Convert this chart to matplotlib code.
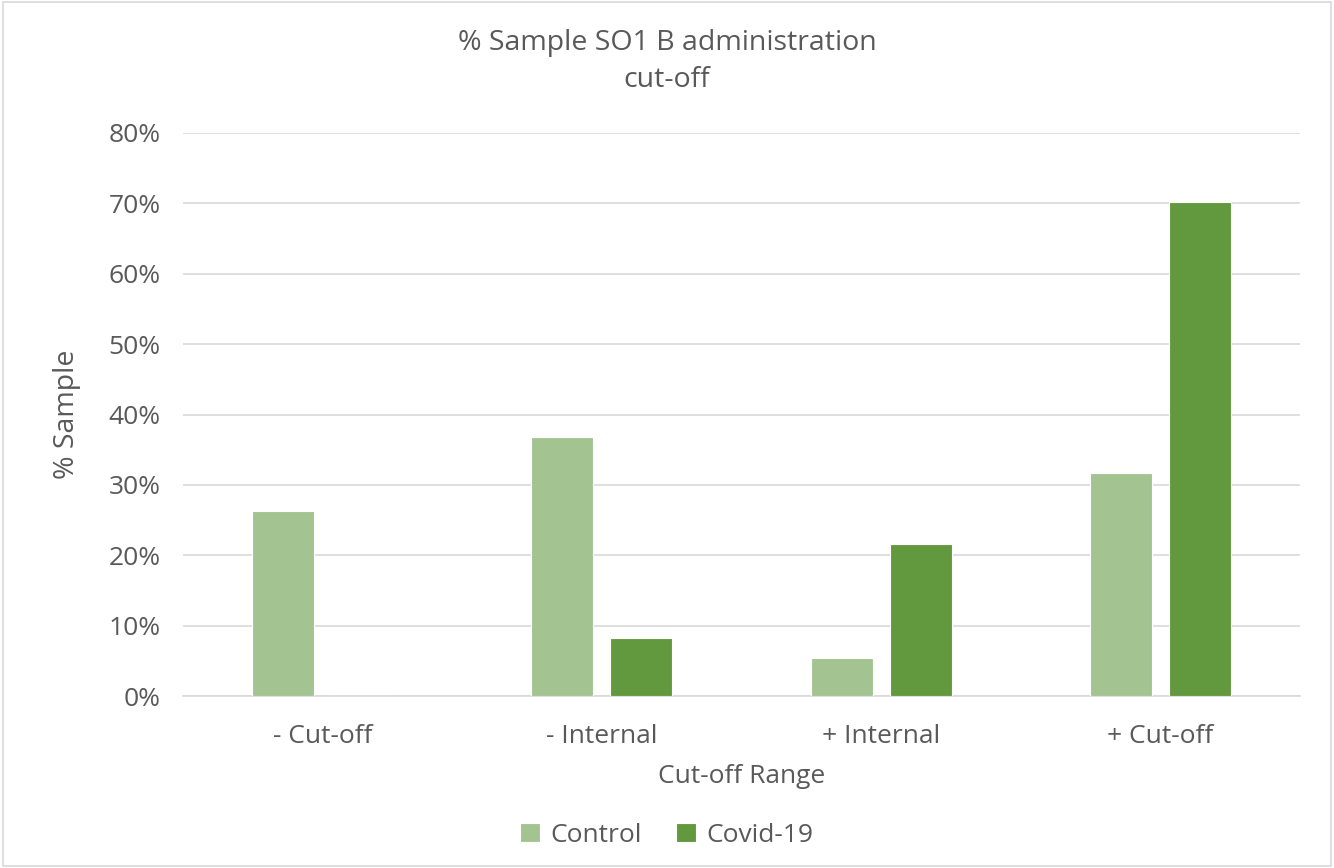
import matplotlib
matplotlib.use("Agg")
import matplotlib.pyplot as plt
import numpy as np
from matplotlib.ticker import FuncFormatter
from matplotlib.patches import Rectangle

categories = ["- Cut-off", "- Internal", "+ Internal", "+ Cut-off"]
control = [26.3, 36.8, 5.4, 31.7]
covid = [0.0, 8.2, 21.6, 70.2]
series_names = ["Control", "Covid-19"]
colors = ["#A3C490", "#62993E"]

plt.rcParams["font.family"] = ["Open Sans", "DejaVu Sans"]
text_color = "#595959"

fig = plt.figure(figsize=(13.34, 8.68), dpi=100)
fig.patches.append(Rectangle((0.002, 0.002), 0.996, 0.996, transform=fig.transFigure,
                             fill=False, edgecolor="#D9D9D9", linewidth=1.2))
ax = fig.add_axes([0.1372, 0.198, 0.8373, 0.6488])

x = np.arange(len(categories))
width = 0.222
offset = 0.1416
ax.bar(x - offset, control, width, color=colors[0], edgecolor="white", linewidth=0.8,
       label=series_names[0], zorder=3)
ax.bar(x + offset, covid, width, color=colors[1], edgecolor="white", linewidth=0.8,
       label=series_names[1], zorder=3)

ax.set_xlim(-0.5, len(categories) - 0.5)
ax.set_ylim(0, 80)
ax.set_yticks(np.arange(0, 81, 10))
ax.yaxis.set_major_formatter(FuncFormatter(lambda v, p: f"{v:.0f}%"))
ax.set_xticks(x)
ax.set_xticklabels(categories)
ax.grid(axis="y", color="#D9D9D9", linewidth=1.2, zorder=0)
for s in ["top", "right", "left"]:
    ax.spines[s].set_visible(False)
ax.spines["bottom"].set_color("#D9D9D9")
ax.spines["bottom"].set_linewidth(1.2)
ax.tick_params(axis="both", length=0, colors=text_color, labelsize=19)
ax.tick_params(axis="x", pad=20)
ax.tick_params(axis="y", pad=16)

ax.set_xlabel("Cut-off Range", fontsize=19, color=text_color, labelpad=11)
ax.set_ylabel("% Sample", fontsize=20.5, color=text_color, labelpad=20)

fig.text(0.5, 0.951, "% Sample SO1 B administration", ha="center", va="center",
         fontsize=20.5, color=text_color)
fig.text(0.5, 0.908, "cut-off", ha="center", va="center", fontsize=20.5, color=text_color)

fig.legend(loc="center", bbox_to_anchor=(0.5, 0.038), ncol=2, frameon=False,
           fontsize=19, labelcolor=text_color, handlelength=0.75, handleheight=0.75,
           handletextpad=0.4, columnspacing=1.3)

fig.savefig("out.png", dpi=100)
